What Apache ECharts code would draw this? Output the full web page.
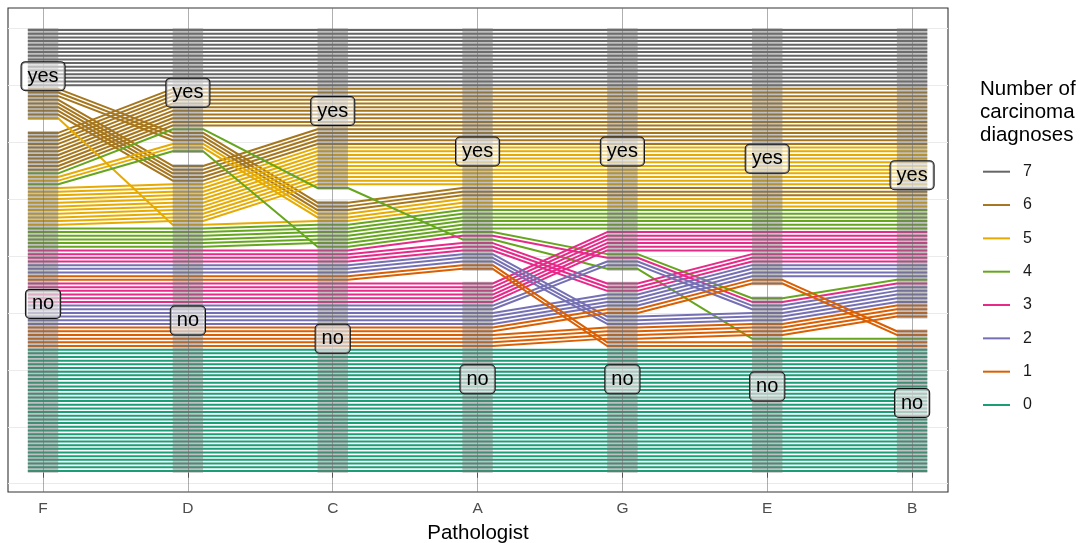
<!DOCTYPE html>
<html><head><meta charset="utf-8">
<script src="https://cdn.jsdelivr.net/npm/echarts@6/dist/echarts.min.js"></script>
<style>html,body{margin:0;padding:0;background:#fff}#c{width:1086px;height:543px}</style>
</head><body><div id="c"></div>
<script>
// ---- data (ratings listed in axis order F,D,C,A,G,E,B; 1 = yes) ----
const pathologists = ['F','D','C','A','G','E','B'];
const strataLabels = ['yes','no'];
const patterns = [
  '1111111',
  '0111111','1011111','1101111',
  '0011111','0101111','1001111',
  '0001111','0101101','0111100',
  '0001011','0001101','0000111',
  '0001001','0000011','0000101',
  '0001000','0000010','0000001',
  '0000000'
];
const patternCounts = [
  16,
  11,5,3,
  11,2,1,
  6,1,1,
  3,1,6,
  3,4,2,
  2,2,4,
  34
];
const colourLevels = ['7','6','5','4','3','2','1','0'];
const colourValues = ['#666666','#A6761D','#E6AB02','#66A61E','#E7298A','#7570B3','#D95F02','#1B9E77'];
const yGridBreaks = [-3, 12.5, 28, 43.5, 59, 74.5, 90, 105.5, 121];

// ---- layout constants ----
const GAP = 3;          // gap between strata (in slide units)
const HALF_W = 0.105;   // half stratum width (axis units)
const FONT = '"Liberation Sans", Arial, Helvetica, sans-serif';

// ---- build subjects ----
const subjects = [];
patterns.forEach((p, gi) => {
  for (let k = 0; k < patternCounts[gi]; k++) {
    const r = p.split('').map(Number);
    subjects.push({ g: gi, r: r, n: r.reduce((a, b) => a + b, 0) });
  }
});
const N = subjects.length;
const nAx = pathologists.length;

// lode guidance: the axis itself, then axes to the right, then axes to the left
function guidance(n, i) {
  const out = [i];
  for (let k = i + 1; k < n; k++) out.push(k);
  for (let k = i - 1; k >= 0; k--) out.push(k);
  return out;
}

const ypos = subjects.map(() => new Array(nAx));
const strata = [];
for (let a = 0; a < nAx; a++) {
  const ord = guidance(nAx, a);
  const idx = subjects.map((s, i) => i);
  idx.sort((i, j) => {
    for (const ax of ord) {
      const d = subjects[j].r[ax] - subjects[i].r[ax];
      if (d !== 0) return d;
    }
    return (subjects[i].g - subjects[j].g) || (i - j);
  });
  let nYes = 0;
  idx.forEach((si, k) => {
    const yes = subjects[si].r[a] === 1;
    if (yes) nYes++;
    ypos[si][a] = yes ? N + GAP - k - 0.5 : N - k - 0.5;
  });
  strata.push([a + 1, N - nYes + GAP, N + GAP, strataLabels[0]]);
  strata.push([a + 1, 0, N - nYes, strataLabels[1]]);
}

const series = [];
series.push({
  type: 'line', data: [], silent: true, z: 0, animation: false,
  markLine: {
    z: 0, silent: true, symbol: 'none', label: { show: false }, animation: false,
    lineStyle: { color: '#EBEBEB', width: 1, type: 'solid' },
    data: yGridBreaks.map(v => ({ yAxis: v }))
  }
});
subjects.forEach((s, i) => {
  const ci = 7 - s.n;
  const pts = [];
  for (let a = 0; a < nAx; a++) {
    pts.push([a + 1 - HALF_W, ypos[i][a]]);
    pts.push([a + 1 + HALF_W, ypos[i][a]]);
  }
  series.push({
    type: 'line', name: colourLevels[ci], data: pts, symbol: 'none', silent: true,
    z: 2, animation: false, color: colourValues[ci],
    lineStyle: { width: 2, color: colourValues[ci] }
  });
});
series.push({
  type: 'custom', data: strata, z: 5, silent: true, animation: false,
  renderItem: (params, api) => {
    const x = api.value(0), y0 = api.value(1), y1 = api.value(2);
    const p0 = api.coord([x - HALF_W, y1]);
    const p1 = api.coord([x + HALF_W, y0]);
    return { type: 'rect', shape: { x: p0[0], y: p0[1], width: p1[0] - p0[0], height: p1[1] - p0[1] },
      style: { fill: 'rgba(115,115,115,0.45)' } };
  }
});
series.push({
  type: 'line', data: [], silent: true, z: 6, animation: false,
  markLine: {
    z: 6, silent: true, symbol: 'none', label: { show: false }, animation: false,
    lineStyle: { color: 'rgba(110,110,110,0.55)', width: 1, type: 'solid' },
    data: pathologists.map((p, i) => ({ xAxis: i + 1 }))
  }
});
series.push({
  type: 'custom', data: strata, z: 8, silent: true, animation: false,
  renderItem: (params, api) => {
    const x = api.value(0), y0 = api.value(1), y1 = api.value(2);
    const c = api.coord([x, (y0 + y1) / 2]);
    return { type: 'text', x: c[0], y: c[1] + 2,
      style: { text: strata[params.dataIndex][3], align: 'center', verticalAlign: 'middle',
        font: '20px ' + FONT, fill: '#000',
        backgroundColor: 'rgba(255,255,255,0.55)', borderColor: '#111', borderWidth: 1,
        borderRadius: 4, padding: [5, 6, 3, 6] } };
  }
});

const chart = echarts.init(document.getElementById('c'), null, { renderer: 'canvas' });
chart.setOption({
  animation: false,
  backgroundColor: '#fff',
  textStyle: { fontFamily: FONT },
  title: {
    text: 'Number of\ncarcinoma\ndiagnoses', left: 980, top: 78, padding: 0,
    textStyle: { fontSize: 20.5, fontWeight: 'normal', color: '#000', lineHeight: 23, fontFamily: FONT }
  },
  legend: {
    data: colourLevels, orient: 'vertical', left: 983, top: 163.7, padding: 0,
    icon: 'rect', itemWidth: 27, itemHeight: 2, itemGap: 17.33,
    textStyle: { fontSize: 16, color: '#1a1a1a', lineHeight: 16, padding: [0, 0, 0, 8], fontFamily: FONT },
    selectedMode: false
  },
  grid: { left: 8, top: 8, width: 940, height: 484, show: true, borderColor: '#333', borderWidth: 1.1,
    backgroundColor: 'transparent', containLabel: false, outerBoundsMode: 'none' },
  xAxis: {
    type: 'value', min: 0.758, max: 7.248,
    axisLine: { show: false },
    axisTick: { show: true, customValues: [1,2,3,4,5,6,7], length: 5, lineStyle: { color: '#333' } },
    axisLabel: { customValues: [1,2,3,4,5,6,7], formatter: v => pathologists[Math.round(v) - 1], color: '#4D4D4D', fontSize: 15.5, margin: 9, fontFamily: FONT },
    splitLine: { show: false },
    name: 'Pathologist', nameLocation: 'middle', nameGap: 31,
    nameTextStyle: { fontSize: 20.5, color: '#000', fontFamily: FONT }
  },
  yAxis: {
    type: 'value', min: -5.25, max: 126.5,
    axisLine: { show: false }, axisTick: { show: false }, axisLabel: { show: false }, splitLine: { show: false }
  },
  series: series
});
</script>
</body></html>
